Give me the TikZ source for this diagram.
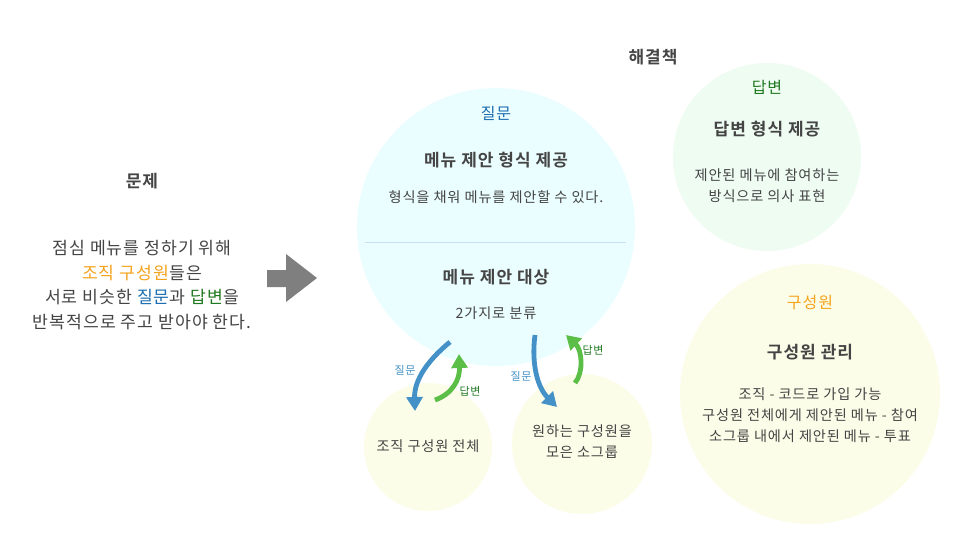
\documentclass[tikz,border=0pt]{standalone}
\usepackage{fontspec}
\setmainfont{Noto Sans CJK KR}[LetterSpace=6, BoldFont={Noto Sans CJK KR Bold}, BoldFeatures={LetterSpace=6}]
\usetikzlibrary{arrows.meta}
\definecolor{txtgray}{HTML}{444444}
\definecolor{qblue}{HTML}{1C6EB0}
\definecolor{agreen}{HTML}{217A21}
\definecolor{morange}{HTML}{F5A31C}
\definecolor{cyanfill}{HTML}{EBFEFF}
\definecolor{greenfill}{HTML}{EEFCF2}
\definecolor{yellowfill}{HTML}{FCFDE8}
\definecolor{divline}{HTML}{C3E2EE}
\definecolor{arrblue}{HTML}{4391C6}
\definecolor{arrgreen}{HTML}{5BBE46}
\definecolor{blockgray}{HTML}{7F7F7F}
\tikzset{
  bubble/.style={circle, draw=none, inner sep=0pt},
  ttl/.style={text=txtgray, font=\fontsize{17}{20}\selectfont\bfseries, inner sep=0pt},
  sub/.style={font=\fontsize{16}{19}\selectfont, inner sep=0pt},
  body/.style={text=txtgray, font=\fontsize{14.2}{21}\selectfont, inner sep=0pt, align=center},
  lbl/.style={font=\fontsize{11}{13}\selectfont, inner sep=0pt},
  curvearr/.style={line width=4.8pt, -{Triangle[width=16pt,length=14pt]}},
}
\begin{document}
\begin{tikzpicture}[x=1pt,y=-1pt]
\useasboundingbox (0,0) rectangle (957,538);
\fill[white] (0,0) rectangle (957,538);
% circles
\node[bubble, fill=cyanfill, minimum size=278pt] (big) at (496,227) {};
\node[bubble, fill=yellowfill, minimum size=128pt] (sm1) at (428,447) {};
\node[bubble, fill=yellowfill, minimum size=140pt] (sm2) at (582,444) {};
\node[bubble, fill=greenfill, minimum size=188pt] (ans) at (767,157) {};
\node[bubble, fill=yellowfill, minimum size=260pt] (mem) at (810,394) {};
% divider
\coordinate (dl) at (365,242);
\coordinate (dr) at (626,242);
\draw[divline, line width=0.8pt] (dl) -- (dr);
% headings
\node[ttl] (sol) at (653,57) {해결책};
\node[ttl] (prob) at (142,181) {문제};
% problem text
\node[text=txtgray, font=\fontsize{17.2}{24.7}\selectfont, align=center, inner sep=0pt] (ptxt) at (142,285)
 {점심 메뉴를 정하기 위해\\
 \textcolor{morange}{조직 구성원}들은\\
 서로 비슷한 \textcolor{qblue}{질문}과 \textcolor{agreen}{답변}을\\
 반복적으로 주고 받아야 한다.};
% block arrow
\fill[blockgray] (267,270) -- (286,270) -- (286,254) -- (317,278) -- (286,302) -- (286,287) -- (267,287) -- cycle;
% big circle text
\node[sub, text=qblue] (qt) at (496,113) {질문};
\node[ttl] (q1) at (496,160) {메뉴 제안 형식 제공};
\node[body] (q2) at (496,197) {형식을 채워 메뉴를 제안할 수 있다.};
\node[ttl] (q3) at (496,277) {메뉴 제안 대상};
\node[body] (q4) at (496,313) {2가지로 분류};
% small circle text
\node[body] (s1) at (428,446) {조직 구성원 전체};
\node[body] (s2) at (582,442) {원하는 구성원을\\모은 소그룹};
% answer circle
\node[sub, text=agreen] (at) at (767,87) {답변};
\node[ttl] (a1) at (767,129) {답변 형식 제공};
\node[body] (a2) at (767,186) {제안된 메뉴에 참여하는\\방식으로 의사 표현};
% member circle
\node[sub, text=morange] (mt) at (810,303) {구성원};
\node[ttl] (m1) at (810,352) {구성원 관리};
\node[body] (m2) at (810,415) {조직 - 코드로 가입 가능\\구성원 전체에게 제안된 메뉴 - 참여\\소그룹 내에서 제안된 메뉴 - 투표};
% curved arrows
\coordinate (b1s) at (450,342);
\coordinate (b1e) at (415,411);
\coordinate (g1s) at (435,400);
\coordinate (g1e) at (459,354);
\coordinate (b2s) at (535,335);
\coordinate (b2e) at (557,407);
\coordinate (g2s) at (575,383);
\coordinate (g2e) at (566,335);
\draw[curvearr, arrblue] (b1s) .. controls (428,360) and (414,380) .. (b1e);
\draw[curvearr, arrgreen] (g1s) .. controls (452,394) and (460,380) .. (g1e);
\draw[curvearr, arrblue] (b2s) .. controls (531,365) and (538,388) .. (b2e);
\draw[curvearr, arrgreen] (g2s) .. controls (584,372) and (582,350) .. (g2e);
\node[lbl, text=arrblue] (l1) at (405,370) {질문};
\node[lbl, text=agreen] (l2) at (470,391) {답변};
\node[lbl, text=arrblue] (l3) at (521,376) {질문};
\node[lbl, text=agreen] (l4) at (593,350) {답변};
\end{tikzpicture}
\end{document}
